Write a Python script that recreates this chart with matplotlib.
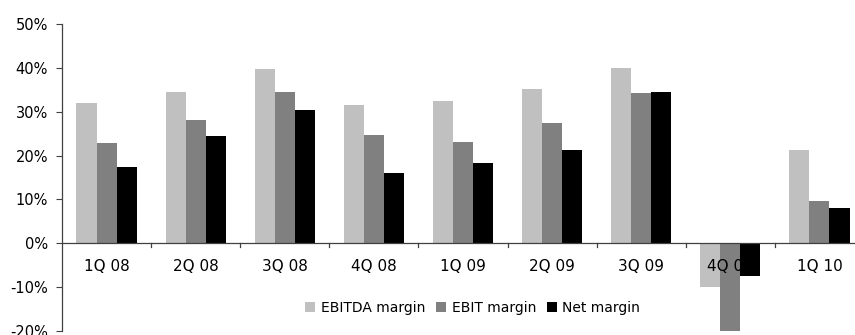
import matplotlib
matplotlib.use("Agg")
import matplotlib.pyplot as plt
import numpy as np
from matplotlib.ticker import FuncFormatter

quarters = ["1Q 08", "2Q 08", "3Q 08", "4Q 08", "1Q 09", "2Q 09", "3Q 09", "4Q 09", "1Q 10"]
ebitda = [32.0, 34.5, 39.8, 31.6, 32.5, 35.2, 40.0, -10.0, 21.3]
ebit = [22.9, 28.2, 34.5, 24.7, 23.2, 27.5, 34.3, -22.0, 9.7]
net = [17.5, 24.5, 30.4, 16.1, 18.4, 21.3, 34.5, -7.5, 8.1]

plt.rcParams["font.family"] = ["DejaVu Sans"]
plt.rcParams["font.size"] = 10.5

W, H = 855, 335
fig = plt.figure(figsize=(W / 100, H / 100), dpi=100)
# axes runs a little past the right edge of the canvas
ax = fig.add_axes([62 / W, 4 / H, (864 - 62) / W, (331 - 24) / H])

x = np.arange(len(quarters))
w = 0.225
ax.bar(x - w, ebitda, w, color="#c0c0c0", label="EBITDA margin")
ax.bar(x, ebit, w, color="#808080", label="EBIT margin")
ax.bar(x + w, net, w, color="#000000", label="Net margin")

ax.set_xlim(-0.5, len(quarters) - 0.5)
ax.set_ylim(-20, 50)
ax.set_yticks(range(-20, 51, 10))
ax.yaxis.set_major_formatter(FuncFormatter(lambda v, _: f"{v:.0f}%"))

for s in ["top", "right", "bottom"]:
    ax.spines[s].set_visible(False)
ax.spines["left"].set_color("#404040")
ax.spines["left"].set_linewidth(0.9)
ax.axhline(0, color="#404040", lw=0.9, zorder=3)
ax.tick_params(axis="y", direction="out", length=4, color="#404040", pad=6)

# category boundary ticks hanging under the zero line
ax.set_xticks([])
for b in np.arange(0.5, len(quarters) - 0.5, 1.0):
    ax.plot([b, b], [0, -0.8], color="#404040", lw=0.9, zorder=3)
for i, q in enumerate(quarters):
    ax.text(i, -5.2, q, ha="center", va="center", fontsize=11)

fig.legend(loc="center", bbox_to_anchor=(0.553, 1 - 308 / H), ncol=3, frameon=False,
           handlelength=0.7, handleheight=0.7, handletextpad=0.4, columnspacing=0.8,
           fontsize=10)

fig.savefig("out.png", dpi=100)
